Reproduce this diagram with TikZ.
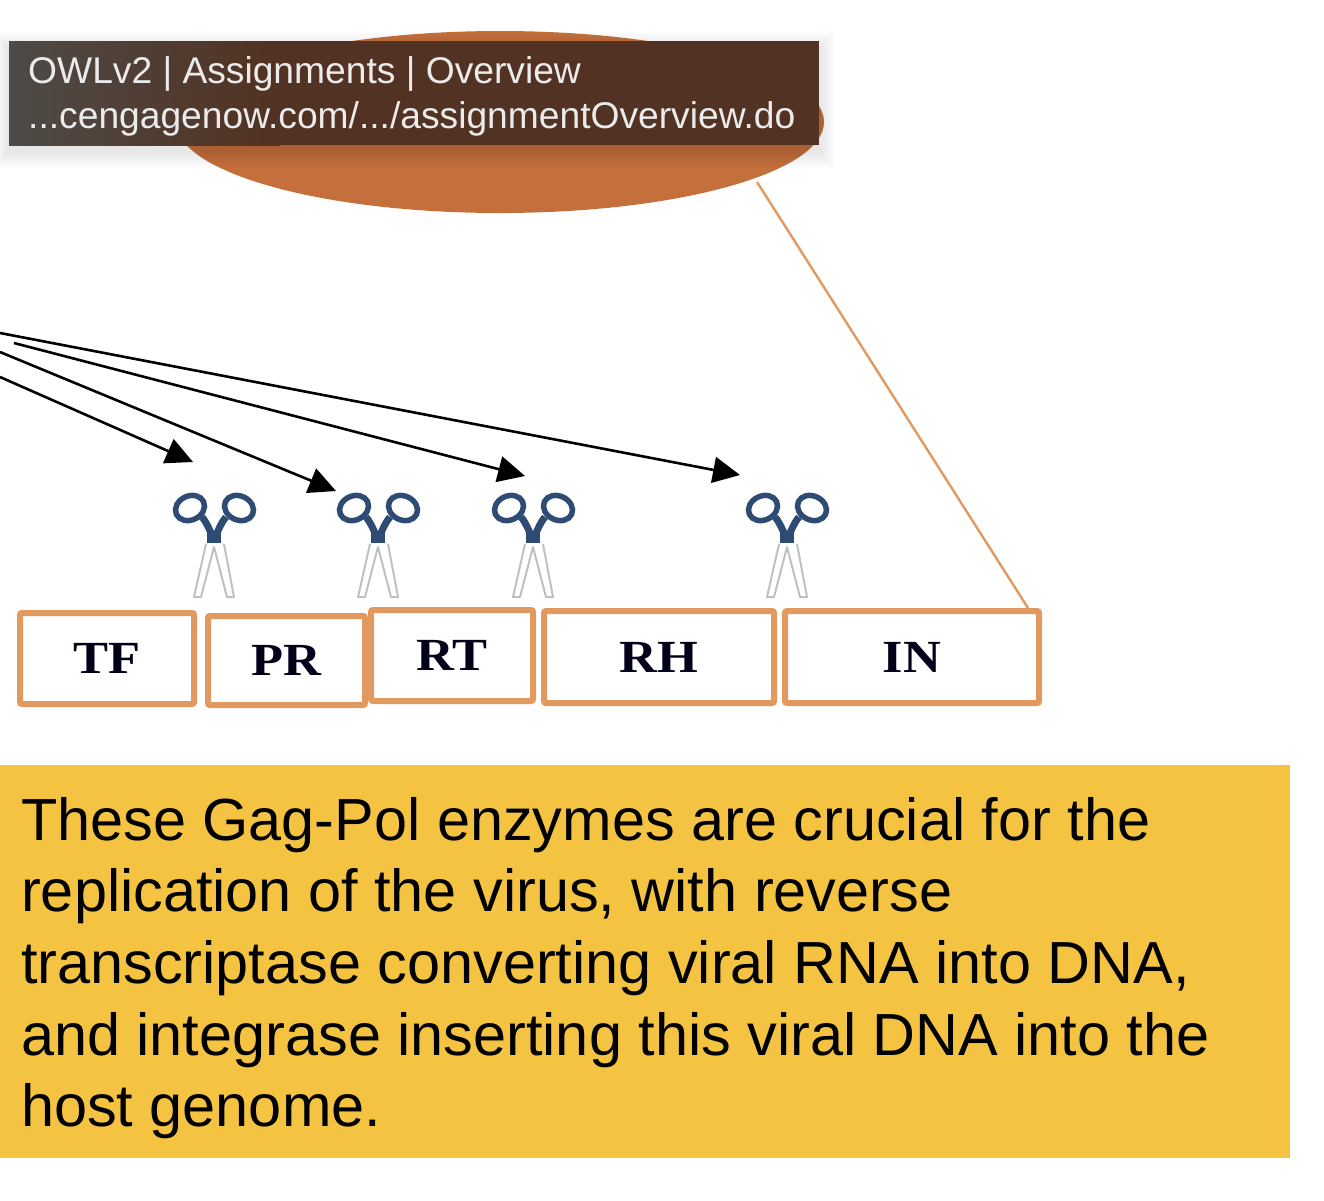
\documentclass[tikz,border=0pt]{standalone}
\usepackage{xcolor}
\usepackage{fontspec}
\setmainfont{Liberation Sans}
\newfontfamily\boxfont[FakeStretch=1.14]{Liberation Serif}
\usetikzlibrary{positioning, arrows.meta, fit, shapes.geometric}
\definecolor{ovalorange}{RGB}{197,112,60}
\definecolor{boxorange}{RGB}{226,153,96}
\definecolor{noteyellow}{RGB}{245,195,66}
\definecolor{tipgray}{RGB}{78,74,70}
\definecolor{tipbrown}{RGB}{82,50,34}
\definecolor{handleblue}{RGB}{45,75,115}
\definecolor{bladegray}{RGB}{190,193,195}
\begin{document}
\begin{tikzpicture}[x=1pt, y=-1pt,
    domainbox/.style={draw=boxorange, line width=6pt, rounded corners=2pt, fill=white, inner sep=0pt,
                      font=\boxfont\bfseries\fontsize{46}{46}\selectfont, text=black!90!blue},
    arr/.style={-{Triangle[length=27pt, width=26pt]}, line width=2.6pt, black},
    guide/.style={draw=boxorange, line width=2.4pt},
    tiptext/.style={anchor=west, inner sep=0pt, text=white!92!black, font=\fontsize{37.2}{37.2}\selectfont},
    pics/shears/.style={code={
      % blades first, handles on top
      \draw[bladegray, line width=2pt, line join=round]
        (-8,7) -- (-20,60) -- (-13,60) -- (0,10) -- (13,60) -- (20,60) -- (10,7);
      \draw[handleblue, line width=7pt] (-2,-2) .. controls (-5,-8) and (-7,-14) .. (-12,-20);
      \draw[handleblue, line width=7pt] (2,-2) .. controls (5,-8) and (7,-14) .. (12,-20);
      \draw[handleblue, line width=5.5pt, rotate around={25:(-24,-29)}] (-24,-29) ellipse (15 and 12);
      \draw[handleblue, line width=5.5pt, rotate around={-25:(25,-29)}] (25,-29) ellipse (15 and 12);
      \fill[handleblue] (-7,-6) rectangle (7,6);
    }}
  ]
  \useasboundingbox (0,0) rectangle (1324,1200);
  \fill[white] (0,0) rectangle (1324,1200);

  % zoomed oval and its guide line
  \node[ellipse, fill=ovalorange, minimum width=648pt, minimum height=182pt, inner sep=0pt] (oval) at (500,122) {};
  \coordinate (guidetop) at (757,182);
  \coordinate (guidebot) at (1028,608);
  \draw[guide] (guidetop) -- (guidebot);

  % browser tooltip
  \foreach \d in {2,4,...,16}
    \fill[black, opacity=.011] (9-\d,41-\d+7) rectangle (819+\d,145+\d+7);
  \node[minimum width=810pt, minimum height=104pt, anchor=north west, inner sep=0pt,
        fill=tipbrown,
        path picture={\foreach \i in {0,...,29}
          \fill[tipbrown!\the\numexpr\i*100/29\relax!tipgray]
            ({-405+\i*9},-60) rectangle ({-405+(\i+1)*9+1},60);}] (tooltip) at (9,41) {};
  \node[tiptext] (tiptitle) at (28,74) {OWLv2 | Assignments | Overview};
  \node[tiptext] (tipurl) at (28,119) {...cengagenow.com/.../assignmentOverview.do};

  % polyprotein domains
  \node[domainbox, minimum width=174pt, minimum height=91pt] (tf) at (107,658.5) {TF};
  \node[domainbox, minimum width=157pt, minimum height=89pt] (pr) at (286.5,660.5) {PR};
  \node[domainbox, minimum width=162pt, minimum height=91pt] (rt) at (452,655.5) {RT};
  \node[domainbox, minimum width=230pt, minimum height=92pt] (rh) at (659,657) {RH};
  \node[domainbox, minimum width=254pt, minimum height=92pt] (in) at (912,657) {IN};

  % cleavage sites
  \pic at (214,537) {shears};
  \pic at (378,537) {shears};
  \pic at (533,537) {shears};
  \pic at (787,537) {shears};

  \coordinate (start1) at (0,377);
  \coordinate (start2) at (0,352);
  \coordinate (start3) at (14,343);
  \coordinate (start4) at (0,333);
  \coordinate (end1) at (193,462);
  \coordinate (end2) at (336,491);
  \coordinate (end3) at (525,476);
  \coordinate (end4) at (740,475);
  \draw[arr] (start1) -- (end1);
  \draw[arr] (start2) -- (end2);
  \draw[arr] (start3) -- (end3);
  \draw[arr] (start4) -- (end4);

  % caption
  \node[anchor=north west, fill=noteyellow, minimum width=1290pt, minimum height=393pt,
        inner sep=0pt] (notebg) at (0,765) {};
  \node[anchor=north west, align=left, inner sep=0pt, text=black,
        font=\fontsize{59.4}{71.6}\selectfont] (note) at (21,797)
    {These Gag-Pol enzymes are crucial for the\\
     replication of the virus, with reverse\\
     transcriptase converting viral RNA into DNA,\\
     and integrase inserting this viral DNA into the\\
     host genome.};
\end{tikzpicture}
\end{document}
